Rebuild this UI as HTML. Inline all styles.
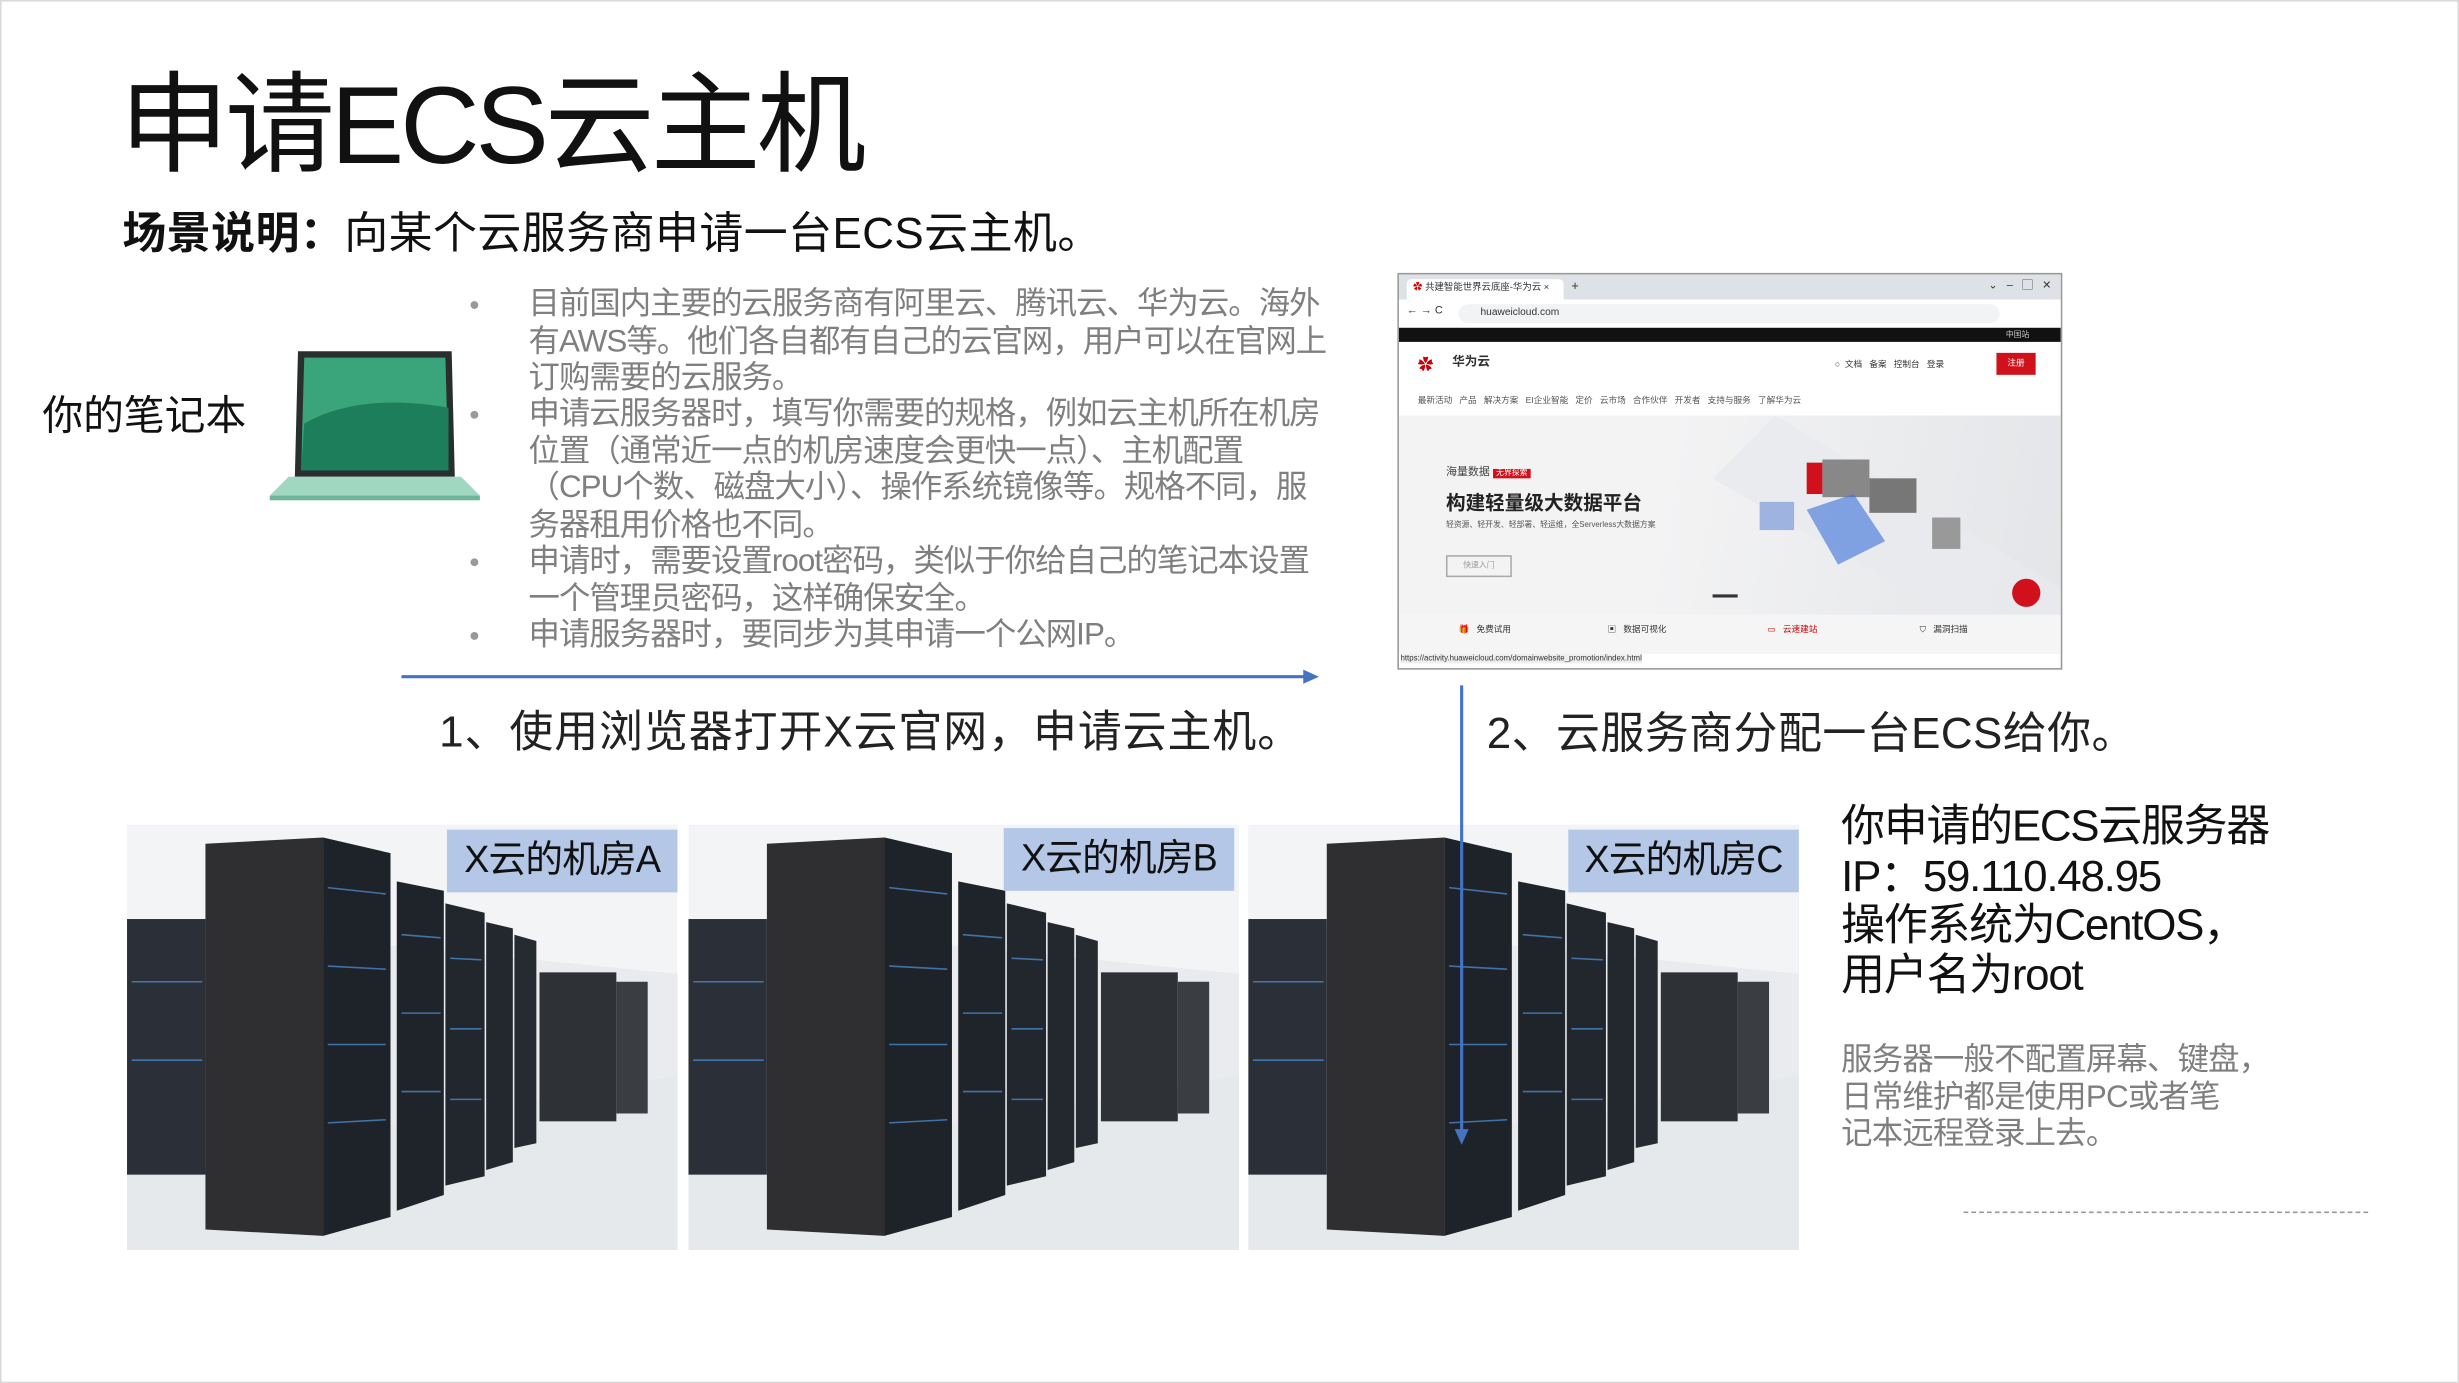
<!DOCTYPE html>
<html><head><meta charset="utf-8"><style>
html,body{margin:0;padding:0;background:#fff;}
body{width:2459px;height:1383px;overflow:hidden;position:relative;}
#s{position:absolute;left:0;top:0;width:1568px;height:882px;transform:scale(1.5683);transform-origin:0 0;font-family:"Liberation Sans","Noto Sans CJK SC",sans-serif;}
.a{position:absolute;white-space:nowrap;}
.b{position:absolute;left:337px;font-size:20px;color:#7f7f7f;line-height:23.5px;width:512px;white-space:normal;letter-spacing:-0.6px;}
.dot{position:absolute;left:300px;width:5px;height:5px;border-radius:50%;background:#999;}
.lab{position:absolute;background:#b4c7e7;font-size:24px;color:#111;height:40px;line-height:40px;text-align:center;letter-spacing:-0.5px;}
.bw{position:absolute;left:891px;top:174px;width:422px;height:251px;border:1px solid #999;background:#fff;overflow:hidden;font-size:6px;color:#333;}
</style></head><body><div id="s">
<div style="position:absolute;left:0;top:0;width:1566px;height:880px;border:1px solid #d9d9d9;"></div>
<div class="a" style="left:76px;top:24px;font-size:70px;color:#111;letter-spacing:-2.5px;">申请ECS云主机</div>
<div class="a" style="left:78px;top:127px;font-size:28px;color:#111;letter-spacing:0.3px;"><b>场景说明：</b>向某个云服务商申请一台ECS云主机。</div>

<div class="dot" style="top:192px"></div><div class="dot" style="top:262px"></div><div class="dot" style="top:356px"></div><div class="dot" style="top:403px"></div>
<div class="b" style="top:183px">目前国内主要的云服务商有阿里云、腾讯云、华为云。海外有AWS等。他们各自都有自己的云官网，用户可以在官网上订购需要的云服务。</div>
<div class="b" style="top:253px">申请云服务器时，填写你需要的规格，例如云主机所在机房位置（通常近一点的机房速度会更快一点）、主机配置<br>（CPU个数、磁盘大小）、操作系统镜像等。规格不同，服务器租用价格也不同。</div>
<div class="b" style="top:347px">申请时，需要设置root密码，类似于你给自己的笔记本设置一个管理员密码，这样确保安全。</div>
<div class="b" style="top:394px">申请服务器时，要同步为其申请一个公网IP。</div>

<div class="a" style="left:27px;top:245px;font-size:26px;color:#111;">你的笔记本</div>
<svg style="position:absolute;left:170px;top:220px" width="138" height="102">
<polygon points="20,4 118,4 120,84 18,84" fill="#2a2e2e"/>
<polygon points="24,8 114,8 116,80 22,80" fill="#3aa57a"/>
<path d="M24,50 Q60,30 116,40 L116,80 L22,80 Z" fill="#1d7e5c"/>
<polygon points="14,84 124,84 136,96 2,96" fill="#9fd7c0"/>
<rect x="2" y="96" width="134" height="3" fill="#6fb69a"/>
</svg>

<div class="bw">
<div style="position:absolute;left:0;top:0;width:422px;height:16px;background:#dee1e6"></div>
<div style="position:absolute;left:5px;top:3px;width:100px;height:13px;background:#fff;border-radius:3px 3px 0 0"><span style="color:#c00;margin-left:4px">✿</span> 共建智能世界云底座-华为云 ×</div>
<div class="a" style="left:110px;top:3px;font-size:8px">+</div>
<div class="a" style="right:6px;top:2px;font-size:7px">⌄ &nbsp; – &nbsp; ▢ &nbsp; ✕</div>
<div style="position:absolute;left:0;top:16px;width:422px;height:18px;background:#fff"></div>
<div class="a" style="left:5px;top:20px;font-size:7px">← → C</div>
<div style="position:absolute;left:38px;top:19px;width:345px;height:12px;background:#f1f3f4;border-radius:6px"></div>
<div class="a" style="left:52px;top:21px;font-size:6.5px">huaweicloud.com</div>
<div style="position:absolute;left:0;top:34px;width:422px;height:9px;background:#111"></div>
<div class="a" style="right:20px;top:35px;color:#ccc;font-size:5px">中国站</div>
<div class="a" style="left:12px;top:49px;color:#c7000b;font-size:10px">✿</div>
<div class="a" style="left:34px;top:50px;font-size:8px;font-weight:bold">华为云</div>
<div class="a" style="left:278px;top:53px;font-size:5.5px">○ &nbsp;文档 &nbsp; 备案 &nbsp; 控制台 &nbsp; 登录</div>
<div style="position:absolute;left:381px;top:50px;width:25px;height:14px;background:#d0111b;color:#fff;font-size:5.5px;text-align:center;line-height:14px">注册</div>
<div class="a" style="left:12px;top:76px;font-size:5.5px;color:#555">最新活动 &nbsp; 产品 &nbsp; 解决方案 &nbsp; EI企业智能 &nbsp; 定价 &nbsp; 云市场 &nbsp; 合作伙伴 &nbsp; 开发者 &nbsp; 支持与服务 &nbsp; 了解华为云</div>
<div style="position:absolute;left:0;top:90px;width:422px;height:127px;background:linear-gradient(100deg,#f3f3f4 40%,#e3e5e8)"></div>
<svg style="position:absolute;left:200px;top:90px" width="222" height="127">
<polygon points="40,0 222,110 222,127 150,127 0,40" fill="#e8eaed" opacity=".8"/>
<rect x="70" y="28" width="30" height="24" fill="#888"/><rect x="100" y="40" width="30" height="22" fill="#777"/>
<rect x="60" y="30" width="10" height="20" fill="#d0111b"/>
<polygon points="60,60 90,50 110,80 80,95" fill="#3b6fd8" opacity=".6"/>
<rect x="30" y="55" width="22" height="18" fill="#9fb3e0"/>
<rect x="140" y="65" width="18" height="20" fill="#999"/>
<circle cx="200" cy="113" r="9" fill="#d0111b"/>
</svg>
<div class="a" style="left:30px;top:121px;font-size:7px;color:#444">海量数据 <span style="background:#d0111b;color:#fff;font-size:5px;padding:0 2px">无界探索</span></div>
<div class="a" style="left:30px;top:135px;font-size:12.5px;font-weight:bold;color:#222">构建轻量级大数据平台</div>
<div class="a" style="left:30px;top:156px;font-size:5px;color:#555">轻资源、轻开发、轻部署、轻运维，全Serverless大数据方案</div>
<div style="position:absolute;left:30px;top:179px;width:40px;height:12px;border:1px solid #aaa;font-size:5px;color:#999;text-align:center;line-height:12px">快速入门</div>
<div style="position:absolute;left:200px;top:204px;width:16px;height:1.5px;background:#333"></div>
<div style="position:absolute;left:0;top:217px;width:422px;height:25px;background:#f5f5f6"></div>
<div class="a" style="left:38px;top:222px;font-size:5.5px">🎁 &nbsp; 免费试用</div>
<div class="a" style="left:133px;top:222px;font-size:5.5px">▣ &nbsp; 数据可视化</div>
<div class="a" style="left:235px;top:222px;font-size:5.5px;color:#c00">▭ &nbsp; 云速建站</div>
<div class="a" style="left:332px;top:222px;font-size:5.5px">⛉ &nbsp; 漏洞扫描</div>
<div class="a" style="left:1px;top:242px;font-size:5px;color:#333;background:#eee">https://activity.huaweicloud.com/domainwebsite_promotion/index.html</div>
</div>

<svg style="position:absolute;left:0;top:0" width="1568" height="882">
<line x1="256" y1="431.5" x2="834" y2="431.5" stroke="#4472c4" stroke-width="2"/>
<polygon points="841,431.5 831,427 831,436" fill="#4472c4"/>
<defs>
<g id="srv">
<rect width="351" height="271" fill="#e9ebee"/>
<polygon points="0,0 351,0 351,95 0,60" fill="#f3f4f6"/>
<polygon points="0,220 351,160 351,271 0,271" fill="#e6e9ec"/>
<rect x="0" y="60" width="50" height="163" fill="#2b3038"/>
<rect x="263" y="94" width="49" height="95" fill="#2e3237"/>
<rect x="312" y="100" width="20" height="84" fill="#3a3e43"/>
<polygon points="50,12 125,8 125,262 50,258" fill="#2f2f31"/>
<polygon points="125,8 168,18 168,250 125,262" fill="#1e2229"/>
<polygon points="172,36 202,42 202,236 172,246" fill="#1f242b"/>
<polygon points="203,50 228,56 228,224 203,230" fill="#22272e"/>
<polygon points="229,62 246,66 246,215 229,220" fill="#23282f"/>
<polygon points="247,70 261,74 261,203 247,206" fill="#262b31"/>
<g stroke="#4a86c8" stroke-width="1" opacity=".8">
<line x1="128" y1="40" x2="165" y2="44"/><line x1="128" y1="90" x2="165" y2="92"/><line x1="128" y1="140" x2="165" y2="140"/><line x1="128" y1="190" x2="165" y2="188"/>
<line x1="175" y1="70" x2="200" y2="72"/><line x1="175" y1="120" x2="200" y2="120"/><line x1="175" y1="170" x2="200" y2="170"/>
<line x1="206" y1="85" x2="226" y2="86"/><line x1="206" y1="130" x2="226" y2="130"/><line x1="206" y1="175" x2="226" y2="175"/>
<line x1="3" y1="100" x2="48" y2="100"/><line x1="3" y1="150" x2="48" y2="150"/>
</g>
</g>
</defs>
<use href="#srv" x="81" y="526"/>
<use href="#srv" x="439" y="526"/>
<use href="#srv" x="796" y="526"/>
<line x1="932" y1="437" x2="932" y2="722" stroke="#4472c4" stroke-width="2"/>
<polygon points="932,730 927.5,720 936.5,720" fill="#4472c4"/>
<line x1="1252" y1="773" x2="1512" y2="773" stroke="#999" stroke-width="1" stroke-dasharray="3,2"/>
</svg>
<div class="lab" style="left:285px;top:529px;width:147px">X云的机房A</div>
<div class="lab" style="left:640px;top:528px;width:147px">X云的机房B</div>
<div class="lab" style="left:1000px;top:529px;width:147px">X云的机房C</div>

<div class="a" style="left:280px;top:445px;font-size:28px;color:#222;letter-spacing:0.6px">1、使用浏览器打开X云官网，申请云主机。</div>
<div class="a" style="left:948px;top:446px;font-size:28px;color:#222;letter-spacing:0.3px">2、云服务商分配一台ECS给你。</div>
<div class="a" style="left:1174px;top:511px;font-size:28px;color:#111;line-height:31.5px;letter-spacing:-0.8px">你申请的ECS云服务器<br>IP：59.110.48.95<br>操作系统为CentOS，<br>用户名为root</div>
<div class="a" style="left:1174px;top:665px;font-size:20px;color:#7f7f7f;line-height:23.5px;letter-spacing:-0.5px">服务器一般不配置屏幕、键盘，<br>日常维护都是使用PC或者笔<br>记本远程登录上去。</div>
</div></body></html>
